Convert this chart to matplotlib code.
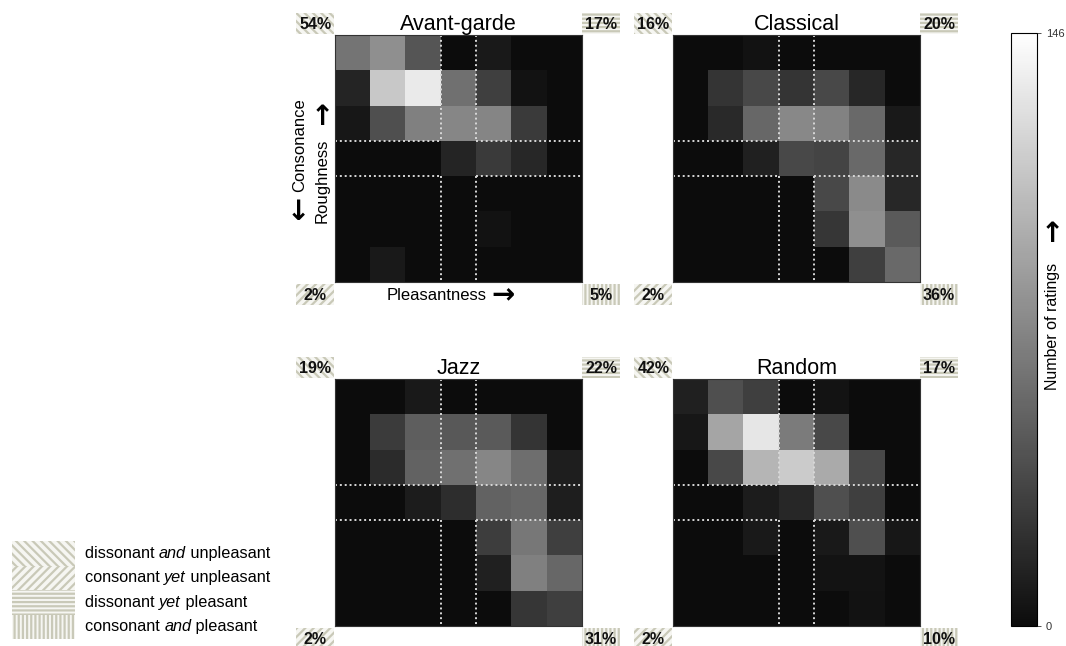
import numpy as np
import matplotlib
matplotlib.use("Agg")
import matplotlib.pyplot as plt
from matplotlib.colors import LinearSegmentedColormap, Normalize
from matplotlib.patches import Rectangle
import matplotlib.cm as cm

plt.rcParams["font.family"] = ["Liberation Sans", "DejaVu Sans"]
plt.rcParams["hatch.linewidth"] = 1.6

# number of ratings per cell, rows = consonance (top high), cols = pleasantness (left low)
avant_garde = [
    [63, 79, 44, 0, 8, 0, 0],
    [15, 113, 134, 60, 31, 4, 0],
    [7, 41, 70, 74, 73, 28, 0],
    [0, 0, 0, 15, 28, 17, 0],
    [0, 1, 1, 0, 0, 1, 1],
    [0, 0, 0, 0, 4, 1, 0],
    [0, 8, 0, 0, 0, 0, 0],
]
classical = [
    [1, 1, 4, 0, 1, 0, 0],
    [0, 25, 36, 25, 37, 17, 0],
    [0, 18, 55, 75, 71, 56, 8],
    [0, 0, 13, 36, 34, 56, 17],
    [0, 1, 0, 0, 36, 76, 17],
    [0, 0, 0, 0, 26, 79, 47],
    [0, 0, 0, 0, 0, 31, 56],
]
jazz = [
    [1, 1, 8, 0, 1, 0, 0],
    [1, 29, 50, 46, 47, 25, 0],
    [0, 19, 52, 60, 74, 59, 11],
    [0, 0, 10, 20, 52, 55, 11],
    [0, 0, 0, 0, 30, 65, 31],
    [0, 0, 0, 0, 12, 70, 55],
    [0, 0, 0, 0, 0, 26, 31],
]
random_ = [
    [12, 41, 31, 0, 5, 0, 0],
    [7, 92, 131, 67, 36, 1, 0],
    [0, 36, 102, 115, 95, 36, 0],
    [0, 0, 10, 17, 41, 31, 1],
    [0, 0, 8, 0, 8, 41, 7],
    [0, 0, 0, 0, 5, 5, 0],
    [0, 0, 0, 0, 1, 4, 0],
]
titles = ["Avant-garde", "Classical", "Jazz", "Random"]
# corner percentages: top-left, top-right, bottom-left, bottom-right
corners = [
    ["54%", "17%", "2%", "5%"],
    ["16%", "20%", "2%", "36%"],
    ["19%", "22%", "2%", "31%"],
    ["42%", "17%", "2%", "10%"],
]
legend_labels = [
    ("dissonant ", "and", " unpleasant"),
    ("consonant ", "yet", " unpleasant"),
    ("dissonant ", "yet", " pleasant"),
    ("consonant ", "and", " pleasant"),
]
vmax = 146

W, H = 1066, 646
cmap = LinearSegmentedColormap.from_list("g", ["#0c0c0c", "#ffffff"])
norm = Normalize(0, vmax)
hatch_col = "#c9c9b8"
face_col = "#f6f6f2"
hatches = ["\\\\\\\\", "----", "////", "||||"]


def fx(x):
    return x / W


def fy(y):
    return 1 - y / H


fig = plt.figure(figsize=(W / 100, H / 100), dpi=100)

positions = [(335, 35), (673, 35), (335, 379), (673, 379)]
size = 247
for data, title, corner, (x0, y0) in zip([avant_garde, classical, jazz, random_], titles, corners, positions):
    ax = fig.add_axes([fx(x0), fy(y0 + size), size / W, size / H])
    ax.imshow(np.array(data), cmap=cmap, norm=norm, interpolation="nearest")
    ax.set_xticks([])
    ax.set_yticks([])
    for s in ax.spines.values():
        s.set_color("#333333")
        s.set_linewidth(0.8)
    # quadrant borders (dotted)
    for b in [2.5, 3.5]:
        for seg in [(-0.5, 2.5), (3.5, 6.5)]:
            ax.plot([b, b], seg, ls=(0, (1, 1.5)), color="#d8d8d8", lw=1.4)
            ax.plot(seg, [b, b], ls=(0, (1, 1.5)), color="#d8d8d8", lw=1.4)
    ax.set_xlim(-0.5, 6.5)
    ax.set_ylim(6.5, -0.5)
    ax.set_title(title, fontsize=15.5, pad=1)

    # hatched corner boxes
    bw, bh = 38 / size, 21 / size
    boxes = [(-bw - 0.003, 1.003), (1.0, 1.003), (-bw - 0.003, -bh - 0.01), (1.0, -bh - 0.01)]
    for (bx, by), txt, h in zip(boxes, corner, hatches):
        ax.add_patch(Rectangle((bx, by), bw, bh, transform=ax.transAxes, clip_on=False,
                               facecolor=face_col, edgecolor=hatch_col, lw=0, hatch=h))
        ax.text(bx + bw / 2, by + bh / 2 - 0.004, txt, transform=ax.transAxes, ha="center", va="center",
                fontsize=11.5, fontweight="bold", color="#111111")

# axis labels on first panel
fig.text(fx(437), fy(296), "Pleasantness", fontsize=12, ha="center", va="center")
fig.text(fx(503), fy(295), "\u2192", fontsize=20, fontweight="bold", ha="center", va="center",
         family="DejaVu Sans")
fig.text(fx(300), fy(145), "Consonance", fontsize=12, ha="center", va="center", rotation=90)
fig.text(fx(298), fy(212), "\u2193", fontsize=20, fontweight="bold", ha="center", va="center",
         family="DejaVu Sans")
fig.text(fx(322), fy(181), "Roughness", fontsize=12, ha="center", va="center", rotation=90)
fig.text(fx(322), fy(117), "\u2191", fontsize=20, fontweight="bold", ha="center", va="center",
         family="DejaVu Sans")

# colorbar
cax = fig.add_axes([fx(1011), fy(626), 26 / W, (626 - 33) / H])
cb = fig.colorbar(cm.ScalarMappable(norm=norm, cmap=cmap), cax=cax)
cb.set_ticks([0, vmax])
cb.ax.tick_params(labelsize=8, length=3, width=0.6, colors="#333333")
cb.outline.set_linewidth(0.8)
fig.text(fx(1052), fy(326), "Number of ratings", fontsize=11.5, ha="center", va="center", rotation=90)
fig.text(fx(1052), fy(234), "\u2191", fontsize=20, fontweight="bold", ha="center", va="center",
         family="DejaVu Sans")

# legend of hatch patterns
leg_hatches = ["\\\\\\\\", "////", "----", "||||"]
row_h = 24.5
for i, (h, parts) in enumerate(zip(leg_hatches, legend_labels)):
    ytop = 541 + i * row_h
    fig.patches.append(Rectangle((fx(12), fy(ytop + row_h)), 63 / W, row_h / H, transform=fig.transFigure,
                                 facecolor=face_col, edgecolor=hatch_col, lw=0, hatch=h))
    yc = fy(ytop + row_h / 2)
    t1 = fig.text(fx(85), yc, parts[0], fontsize=11.7, va="center")
    fig.canvas.draw()
    bb = t1.get_window_extent()
    t2 = fig.text(bb.x1 / W, yc, parts[1], fontsize=11.7, va="center", style="italic")
    bb2 = t2.get_window_extent(renderer=fig.canvas.get_renderer())
    fig.text(bb2.x1 / W, yc, parts[2], fontsize=11.7, va="center")

fig.savefig("out.png", dpi=100)
